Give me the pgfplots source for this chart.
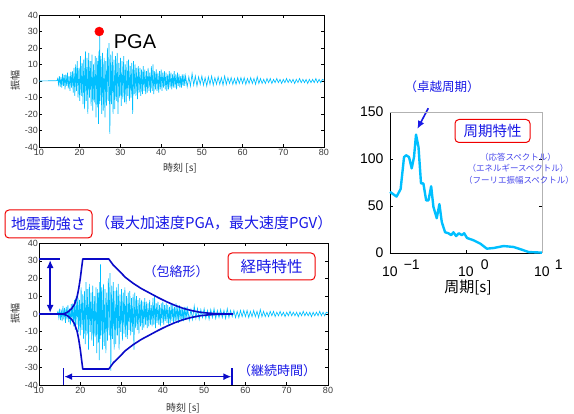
\documentclass[border=0pt]{standalone}
\usepackage{fontspec}
\setmainfont{Liberation Sans}
\newfontfamily\cjk{Noto Sans CJK JP}
\usepackage{pgfplots}
\pgfplotsset{compat=1.18}
\usepackage{pgfplotstable}
\usetikzlibrary{arrows.meta}
\definecolor{trace}{RGB}{0,191,255}
\definecolor{env}{RGB}{10,10,200}
\definecolor{txtblue}{RGB}{25,25,230}
\definecolor{boxred}{RGB}{240,0,0}
\definecolor{ticklab}{RGB}{60,60,60}

\pgfplotstableread{
t y
10.0 0
14.4 0.2
14.6 1.5
14.8 -2
15.0 3
15.2 -3.5
15.4 2.5
15.6 -4
15.8 4.5
16.0 -3
16.2 3.5
16.4 -5
16.6 4
16.8 -3
17.0 5
17.2 -4.5
17.4 3
17.6 -6
17.8 5.5
18.0 -4
18.2 6
18.4 -7
18.6 8
18.8 -9
19.0 10
19.2 -6
19.4 12
19.6 -10
19.8 8
20.0 -12
20.2 15
20.4 -9
20.6 11
20.8 -14
21.0 13
21.2 -17
21.4 18
21.6 -12
21.8 14
22.0 -20
22.2 17
22.4 -10
22.6 12
22.8 -15
23.0 16
23.2 -18
23.4 10
23.6 -13
23.8 15
24.0 -22
24.2 14
24.4 -16
24.5 12
24.6 -26
24.7 18
24.8 -14
24.9 28
25.0 -12
25.2 15
25.4 -20
25.6 17
25.8 -18
26.0 14
26.2 -22
26.4 12
26.6 -15
26.8 20
27.0 -12
27.2 23
27.4 -32
27.6 16
27.8 -14
28.0 18
28.2 -20
28.4 13
28.6 -17
28.8 15
29.0 -12
29.2 17
29.4 -20
29.6 11
29.8 -10
30.0 14
30.2 -15
30.4 12
30.6 -11
30.8 15
31.0 -13
31.2 10
31.4 -14
31.6 12
31.8 -9
32.0 13
32.2 -12
32.4 9
32.6 -10
32.8 11
33.0 -20
33.2 12
33.4 -8
33.6 10
33.8 -9
34.0 8
34.2 -11
34.4 9
34.6 -7
34.8 8
35.0 -9
35.2 7
35.4 -8
35.6 9
35.8 -6
36.0 7
36.2 -8
36.4 6
36.6 -7
36.8 8
37.0 -6
37.2 5
37.4 -7
37.6 9
37.8 -6
38.0 10
38.2 -8
38.4 6
38.6 -5
38.8 7
39.0 -6
39.2 5
39.4 -7
39.6 6
39.8 -5
40.0 7
40.2 -6
40.4 5
40.6 -4
40.8 6
41.0 -5
41.2 5
41.4 -6
41.6 4
41.8 -5
42.0 6
42.2 -4
42.4 5
42.6 -5
42.8 4
43.0 -4
43.2 6
43.4 -4
43.6 4
43.8 -5
44.0 5
44.2 -3
44.4 4
44.6 -4
44.8 3
45.0 -4
45.2 4
45.4 -3
45.6 4
45.8 -3
46.0 3
46.4 -3.5
46.8 2.5
47.2 -3
47.6 4.5
48.0 -2.5
48.4 3
48.8 -3
49.2 2.5
49.6 -2
50.0 3
50.4 -2.5
50.8 2
51.2 -3
51.6 2.5
52.0 -2
52.4 3
52.8 -2.5
53.2 2
53.6 -2
54.0 2.5
54.4 -2
54.8 2
55.2 -2.5
55.6 3
56.0 -2
56.4 2
56.8 -1.5
57.2 2
57.6 -2
58.0 1.5
58.4 -2
58.8 2
59.2 -1.5
59.6 2
60.0 -1.5
60.4 2
60.8 -2
61.2 1.5
61.6 -1.5
62.0 2
62.4 -1.5
62.8 1.5
63.2 -2
63.6 2.5
64.0 -1.5
64.4 1.5
64.8 -1.5
65.2 1
65.6 -1.5
66.0 1.5
66.4 -1
66.8 1.5
67.2 -1.5
67.6 1
68.0 -1
68.4 1.5
68.8 -1
69.2 1
69.6 -1.5
70.0 1
70.4 -1
70.8 1.5
71.2 -1
71.6 1
72.0 -1
72.4 1
72.8 -1.5
73.2 1
73.6 -1
74.0 1.5
74.4 -1
74.8 1
75.2 -1
75.6 1
76.0 -1.5
76.4 1
76.8 -1
77.2 1
77.6 -1
78.0 1.5
78.4 -1
78.8 1
79.2 -1
79.6 1
80.0 0.5
}\seis

\pgfplotstableread{
T v
0.1 65
0.122 60
0.138 68
0.153 102
0.163 104
0.178 102
0.193 90
0.207 102
0.220 126
0.237 113
0.256 74
0.275 74
0.299 56
0.321 56
0.348 71
0.373 49
0.412 37
0.447 52
0.480 33
0.531 22
0.587 21
0.637 19
0.684 22
0.741 18
0.804 21
0.881 19
0.947 21
1.03 16
1.26 13.5
1.54 10
1.88 4.6
2.31 5.3
3.13 7.4
4.23 6.4
5.44 3.5
6.67 1
10 0.4
}\spec

\pgfplotsset{seisaxis/.style={
  scale only axis, anchor=south west,
  xmin=10, xmax=80, ymin=-40, ymax=40,
  xtick={10,20,...,80}, ytick={-40,-30,...,40},
  tick align=inside, major tick length=3pt,
  tick style={black, line width=0.5pt},
  axis line style={black, line width=0.6pt},
  tick label style={font=\fontsize{9}{9}\selectfont, text=ticklab},
  /pgf/number format/assume math mode=true,
  yticklabel style={inner sep=1pt},
  xticklabel style={inner sep=1.5pt, yshift=-1pt},
}}

\begin{document}
\begin{tikzpicture}[x=1pt,y=1pt]
\useasboundingbox (0,0) rectangle (574,414);

% ---------- top seismogram ----------
\begin{axis}[seisaxis, at={(39pt,267pt)}, width=285pt, height=132pt, clip=false]
\addplot[trace, line width=0.65pt] table[x=t,y=y]{\seis};
\addplot[only marks, mark=*, mark size=4.5pt, mark options={draw=red, fill=red}] coordinates {(24.8,30)};
\end{axis}
\node[font=\fontsize{20}{20}\selectfont] at (135,372) {PGA};
\node[font={\cjk\fontsize{10}{10}\selectfont}, text=black!80] at (180,246) {時刻 [s]};
\node[font={\cjk\fontsize{10}{10}\selectfont}, text=black!80, rotate=90] at (15,333) {振幅};

% ---------- bottom seismogram ----------
\begin{axis}[seisaxis, at={(39pt,29pt)}, width=289pt, height=142pt, clip=false]
\addplot[trace, line width=0.65pt] table[x=t,y=y]{\seis};
\addplot[env, line width=1.6pt, line join=round] coordinates {
(10,0)(15.9,0)(16.9,1.0)(17.9,3.0)(18.6,5.5)(19.2,9.5)(19.6,14)(20.0,20)(20.3,25.5)(20.6,31)
(26.9,31)(28,27.5)(29.6,23.8)(31,20.5)(32.8,17.3)(34.8,14.3)(36.9,11.7)(38.9,9.2)(40.9,6.9)
(42.9,4.9)(44.9,3.2)(47,1.9)(49,1.0)(51,0.5)(53,0.2)(57,0)};
\addplot[env, line width=1.6pt, line join=round] coordinates {
(15.9,0)(16.9,-1.0)(17.9,-3.0)(18.6,-5.5)(19.2,-9.5)(19.6,-14)(20.0,-20)(20.3,-25.5)(20.6,-31)
(26.9,-31)(28,-27.5)(29.6,-23.8)(31,-20.5)(32.8,-17.3)(34.8,-14.3)(36.9,-11.7)(38.9,-9.2)(40.9,-6.9)
(42.9,-4.9)(44.9,-3.2)(47,-1.9)(49,-1.0)(51,-0.5)(53,-0.2)(57,0)};
\addplot[env, line width=1.6pt] coordinates {(10,31)(15.1,31)};
\addplot[env, line width=1.6pt, {Latex[length=8pt,width=7pt]}-{Latex[length=8pt,width=7pt]}] coordinates {(12.7,0.6)(12.7,30.4)};
\addplot[env, line width=1.6pt, {Latex[length=8pt,width=7pt]}-{Latex[length=8pt,width=7pt]}] coordinates {(16.1,-35.3)(56.6,-35.3)};
\addplot[env, line width=1.6pt] coordinates {(15.9,-30.5)(15.9,-40)};
\addplot[env, line width=1.6pt] coordinates {(56.8,-30.5)(56.8,-40)};
\end{axis}
\node[font={\cjk\fontsize{10}{10}\selectfont}, text=black!80] at (183,6) {時刻 [s]};
\node[font={\cjk\fontsize{10}{10}\selectfont}, text=black!80, rotate=90] at (15,100) {振幅};

\node[draw=boxred, line width=1pt, rounded corners=4pt, minimum width=87pt, minimum height=28pt,
      text=txtblue, font={\cjk\fontsize{15}{15}\selectfont}] at (48.5,190) {地震動強さ};
\node[anchor=west, inner sep=0pt, text=txtblue, font={\cjk\fontsize{15}{15}\selectfont}] at (95,191) {（最大加速度PGA，最大速度PGV）};
\node[text=txtblue, font={\cjk\fontsize{13}{13}\selectfont}] at (176,142) {（包絡形）};
\node[draw=boxred, line width=1pt, rounded corners=4pt, minimum width=87pt, minimum height=27pt,
      text=txtblue, font={\cjk\fontsize{15.5}{15.5}\selectfont}] at (271.5,147.5) {経時特性};
\node[text=txtblue, font={\cjk\fontsize{13}{13}\selectfont}] at (277,43) {（継続時間）};

% ---------- right spectrum ----------
\begin{axis}[scale only axis, anchor=south west, at={(390pt,161pt)}, width=152pt, height=141pt,
  xmode=log, xmin=0.1, xmax=10, ymin=0, ymax=150,
  ytick={0,50,100,150}, xtick={0.1,1,10},
  xticklabels={{10\rlap{\hspace{6pt}\raisebox{7pt}{−1}}},{10\rlap{\hspace{7pt}\raisebox{7pt}{0}}},{10\rlap{\hspace{5pt}\raisebox{7pt}{1}}}},
  xminorticks=false, yminorticks=false,
  tick align=inside, major tick length=3pt,
  axis x line*=bottom, axis y line*=left,
  axis line style={black, line width=0.6pt},
  tick style={black, line width=0.5pt},
  tick label style={font=\fontsize{14}{14}\selectfont, text=black},
  xticklabel style={inner sep=3pt, yshift=-4pt},
  yticklabel style={xshift=-3pt},
  /pgf/number format/assume math mode=true,
  clip=false]
\addplot[trace, line width=2.4pt, line join=round] table[x=T,y=v]{\spec};
\addplot[txtblue, line width=1.6pt, -{Latex[length=8pt,width=7pt]}] coordinates {(0.319,154)(0.229,132)};
\addplot[gray!60, line width=0.5pt] coordinates {(0.1,150)(10,150)(10,0)};
\addplot[black, line width=0.5pt] coordinates {(9.1,50)(10,50)};
\addplot[black, line width=0.5pt] coordinates {(9.1,100)(10,100)};
\end{axis}
\node[font={\cjk\fontsize{15}{15}\selectfont}] at (468,126) {周期[s]};
\node[text=txtblue, font={\cjk\fontsize{12.5}{12.5}\selectfont}] at (442,327) {（卓越周期）};
\node[draw=boxred, line width=1pt, rounded corners=4pt, minimum width=75pt, minimum height=23pt,
      text=txtblue, font={\cjk\fontsize{14.5}{14.5}\selectfont}] at (492.5,283) {周期特性};
\node[text=txtblue!80, font={\cjk\fontsize{8.5}{8.5}\selectfont}] at (518,257) {（応答スペクトル）};
\node[text=txtblue!80, font={\cjk\fontsize{8.5}{8.5}\selectfont}] at (518,246) {（エネルギースペクトル）};
\node[text=txtblue!80, font={\cjk\fontsize{8.5}{8.5}\selectfont}] at (519,234) {（フーリエ振幅スペクトル）};
\end{tikzpicture}
\end{document}
